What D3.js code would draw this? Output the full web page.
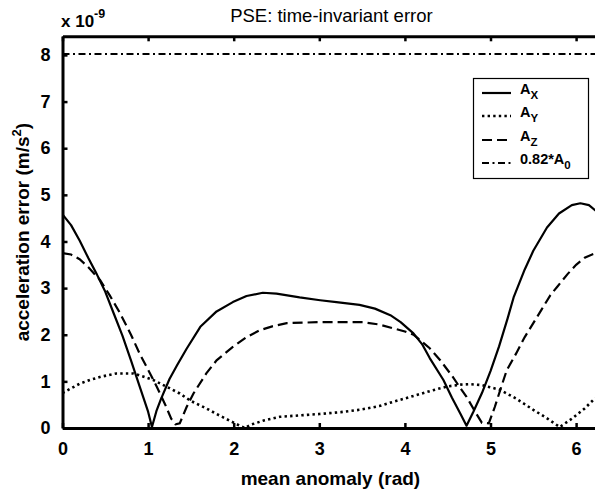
<!DOCTYPE html>
<html><head><meta charset="utf-8">
<script src="https://cdn.jsdelivr.net/npm/d3@7"></script>
<style>
body{margin:0;background:#fff;}
svg{display:block;font-family:"Liberation Sans",Arial,sans-serif;}
</style></head>
<body><svg id="c" width="595" height="491"></svg>
<script>
// ---- data (units of 1e-9 m/s^2) ----
const xTicks = [0,1,2,3,4,5,6];
const yTicks = [0,1,2,3,4,5,6,7,8];
const axX = [0,0.1,0.2,0.3,0.4,0.5,0.6,0.7,0.8,0.9,1.0,1.045,1.1,1.15,1.25,1.34,1.45,1.61,1.8,1.99,2.15,2.34,2.5,2.77,3.01,3.2,3.47,3.65,3.83,3.95,4.1,4.2,4.29,4.45,4.55,4.65,4.72,4.8,4.9,5.0,5.1,5.2,5.27,5.4,5.5,5.66,5.8,5.95,6.05,6.15,6.283];
const axY = [4.58,4.35,4.02,3.65,3.3,2.92,2.45,1.98,1.45,0.9,0.35,0.02,0.38,0.62,1.05,1.35,1.7,2.17,2.5,2.7,2.83,2.9,2.88,2.8,2.74,2.7,2.64,2.56,2.42,2.27,2.03,1.8,1.5,1.03,0.65,0.3,0.05,0.35,0.75,1.22,1.75,2.35,2.8,3.4,3.8,4.3,4.6,4.78,4.82,4.78,4.58];
const ayX = [0,0.1,0.2,0.32,0.45,0.63,0.83,0.95,1.06,1.2,1.37,1.5,1.68,1.8,1.95,2.07,2.13,2.2,2.35,2.54,2.77,3.0,3.25,3.47,3.7,3.86,4.05,4.29,4.49,4.65,4.76,4.9,5.11,5.3,5.5,5.65,5.81,5.95,6.1,6.2,6.283];
const ayY = [0.75,0.85,0.95,1.03,1.1,1.17,1.17,1.1,1.03,0.9,0.74,0.58,0.42,0.3,0.16,0.05,0.0,0.07,0.16,0.24,0.27,0.3,0.34,0.39,0.47,0.56,0.66,0.79,0.89,0.93,0.94,0.92,0.82,0.63,0.39,0.22,0.02,0.2,0.42,0.6,0.7];
const azX = [0,0.1,0.2,0.3,0.44,0.55,0.67,0.8,0.9,1.0,1.1,1.2,1.27,1.32,1.37,1.45,1.53,1.68,1.8,1.99,2.15,2.31,2.45,2.62,3.0,3.51,3.7,3.86,4.0,4.1,4.2,4.29,4.41,4.55,4.65,4.72,4.82,4.9,4.98,5.05,5.12,5.19,5.3,5.4,5.5,5.6,5.7,5.78,5.9,6.0,6.1,6.2,6.283];
const azY = [3.75,3.72,3.62,3.45,3.17,2.85,2.47,2.0,1.6,1.25,0.89,0.5,0.2,0.08,0.1,0.45,0.74,1.17,1.45,1.74,1.95,2.1,2.18,2.25,2.27,2.27,2.22,2.14,2.07,2.0,1.85,1.71,1.46,1.12,0.85,0.67,0.35,0.11,0.1,0.45,0.85,1.24,1.6,1.95,2.25,2.55,2.85,3.03,3.3,3.5,3.65,3.73,3.76];
const a0Level = 8.02;
const seriesNames = ["A","A","A","0.82*A"];
const seriesSubs = ["X","Y","Z","0"];
const seriesDash = ["none","2.4,3.2","10,5","7,3.5,2,3.5"];

// ---- layout ----
const svg = d3.select("#c");
const L = 62.5, T = 36.3, B = 428, R = 62.5 + 85.6 * 2 * Math.PI;
const x = d3.scaleLinear().domain([0, 2 * Math.PI]).range([L, R]);
const y = d3.scaleLinear().domain([0, 8.4]).range([B, T]);

svg.append("defs").append("clipPath").attr("id","clip")
  .append("rect").attr("x",L).attr("y",T).attr("width",R-L).attr("height",B-T);

const g = svg.append("g").attr("clip-path","url(#clip)");
const line = d3.line().x(d=>x(d[0])).y(d=>y(d[1]));
const zip = (a,b)=>a.map((v,i)=>[v,b[i]]);

g.append("path").datum([[0,a0Level],[2*Math.PI,a0Level]]).attr("d",line)
  .attr("fill","none").attr("stroke","#000").attr("stroke-width",1.8).attr("stroke-dasharray",seriesDash[3]);
g.append("path").datum(zip(axX,axY)).attr("d",line)
  .attr("fill","none").attr("stroke","#000").attr("stroke-width",2.2).attr("stroke-linejoin","round");
g.append("path").datum(zip(ayX,ayY)).attr("d",line)
  .attr("fill","none").attr("stroke","#000").attr("stroke-width",2.6).attr("stroke-dasharray",seriesDash[1]);
g.append("path").datum(zip(azX,azY)).attr("d",line)
  .attr("fill","none").attr("stroke","#000").attr("stroke-width",2.2).attr("stroke-dasharray",seriesDash[2]);

// ---- axes ----
const axB = svg.append("g").attr("transform",`translate(0,${B})`)
  .call(d3.axisBottom(x).tickValues(xTicks).tickFormat(d3.format("d")).tickSizeInner(-5).tickSizeOuter(0).tickPadding(14));
const axT = svg.append("g").attr("transform",`translate(0,${T})`)
  .call(d3.axisTop(x).tickValues(xTicks).tickFormat("").tickSizeInner(-5).tickSizeOuter(0));
const axL = svg.append("g").attr("transform",`translate(${L},0)`)
  .call(d3.axisLeft(y).tickValues(yTicks).tickFormat(d3.format("d")).tickSizeInner(-5).tickSizeOuter(0).tickPadding(12));
[axB,axT,axL].forEach(a=>{
  a.select(".domain").attr("stroke","#000").attr("stroke-width",3);
  a.selectAll(".tick line").attr("stroke","#000").attr("stroke-width",2.5);
  a.selectAll("text").attr("font-family","Liberation Sans, Arial, sans-serif")
   .attr("font-size",18).attr("font-weight","bold").attr("fill","#000");
});
axB.selectAll(".tick text").attr("dy","0.71em");

// ---- titles ----
svg.append("text").attr("x",(L+R)/2).attr("y",22).attr("text-anchor","middle")
  .attr("font-size",18.5).text("PSE: time-invariant error");
const ex = svg.append("text").attr("x",61).attr("y",27).attr("font-size",17).attr("font-weight","bold");
ex.append("tspan").text("x 10");
ex.append("tspan").attr("dy",-9).attr("font-size",12.5).text("-9");

svg.append("text").attr("x",(L+R)/2 - 1).attr("y",485).attr("text-anchor","middle")
  .attr("font-size",19).attr("font-weight","bold").text("mean anomaly (rad)");
const yl = svg.append("text").attr("transform",`translate(29,${(T+B)/2}) rotate(-90)`)
  .attr("text-anchor","middle").attr("font-size",19).attr("font-weight","bold");
yl.append("tspan").text("acceleration error (m/s");
yl.append("tspan").attr("dy",-8).attr("font-size",13).text("2");
yl.append("tspan").attr("dy",8).text(")");

// ---- legend ----
const lg = svg.append("g");
lg.append("rect").attr("x",473.5).attr("y",78.5).attr("width",115).attr("height",100)
  .attr("fill","#fff").attr("stroke","#000").attr("stroke-width",1.2);
const rowY = [93,116,140,163];
seriesNames.forEach((n,i)=>{
  lg.append("line").attr("x1",482).attr("x2",511).attr("y1",rowY[i]).attr("y2",rowY[i])
    .attr("stroke","#000").attr("stroke-width",i===3?1.8:(i===1?2.6:2.2))
    .attr("stroke-dasharray",seriesDash[i]);
  const t = lg.append("text").attr("x",520).attr("y",rowY[i]+1).attr("font-size",14.5).attr("font-weight","bold");
  t.append("tspan").text(n);
  t.append("tspan").attr("dy",5).attr("font-size",11.5).text(seriesSubs[i]);
});
</script></body></html>
